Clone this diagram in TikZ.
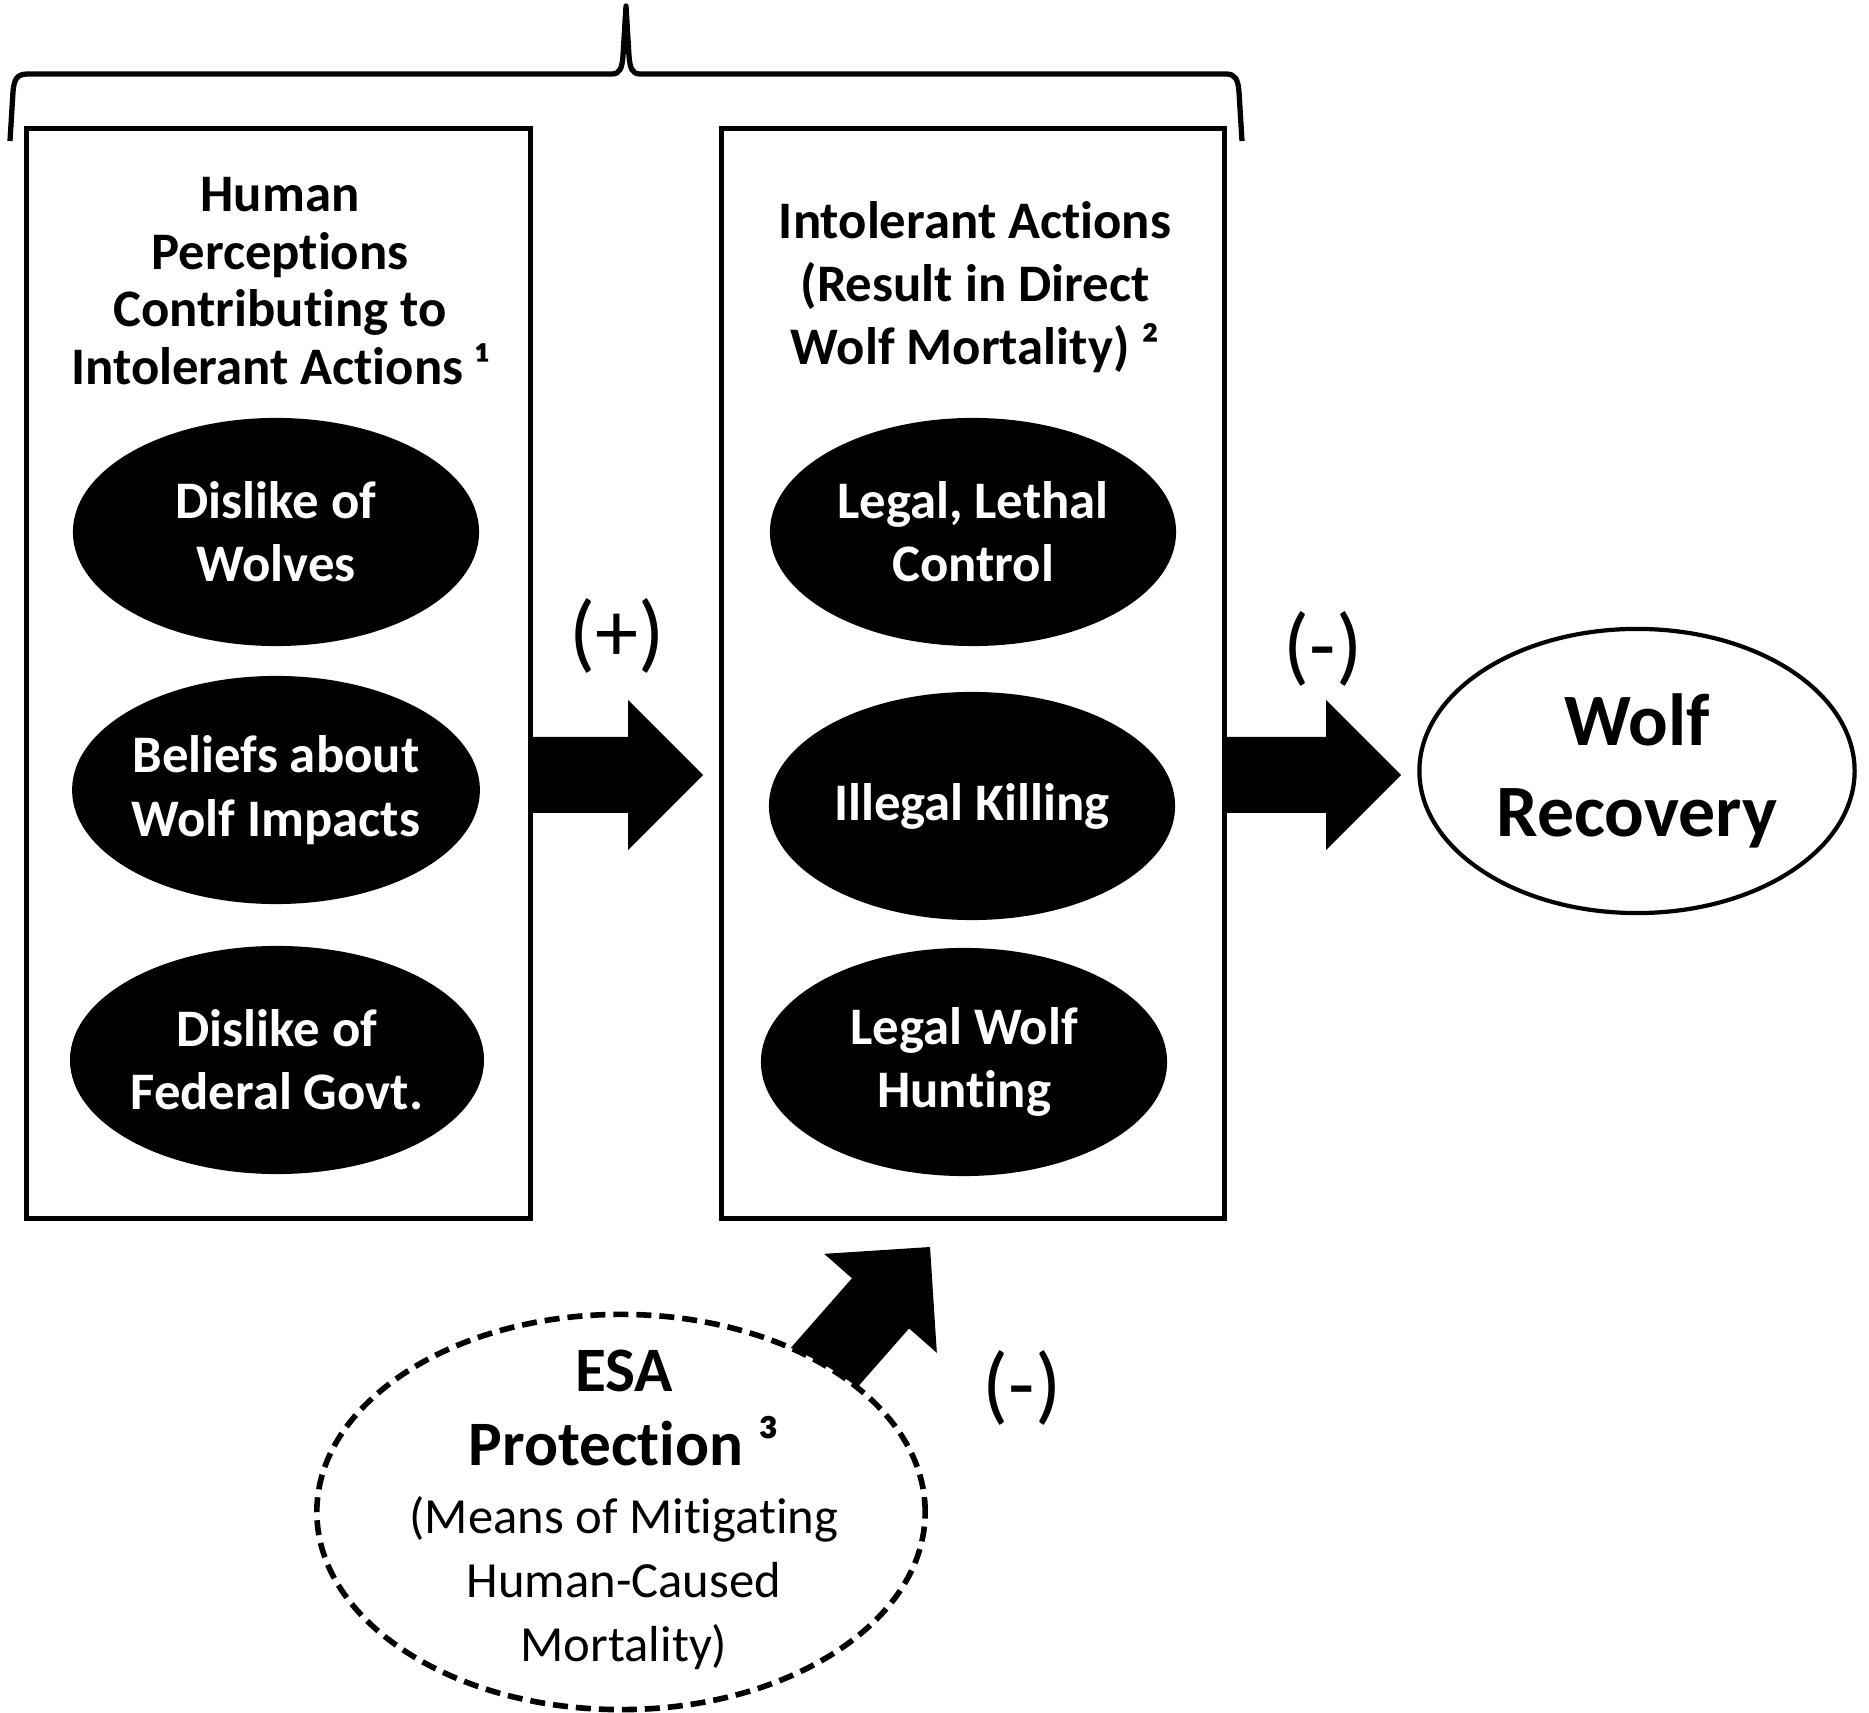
\documentclass[tikz,border=0pt]{standalone}
\usepackage{fontspec}
\setmainfont{Carlito}[Ligatures={NoCommon,NoContextual}]
\usetikzlibrary{shapes.geometric}

% filled block arrow: tail point, angle, shaft length
\newcommand{\blockarrow}[3]{%
  \fill[shift={#1}, rotate=#2] (0,-38) -- (#3,-38) -- (#3,-75) -- ++(75,75)
    -- ++(-75,75) -- (#3,38) -- (0,38) -- cycle;}

\begin{document}
\begin{tikzpicture}[x=0.01cm, y=-0.01cm,
    box/.style={rectangle, draw, line width=1.4pt,
                minimum width=5.03cm, minimum height=10.89cm},
    ttl/.style={align=center, font=\fontsize{15}{17.9}\selectfont\bfseries},
    blob/.style={ellipse, fill=black, text=white, inner sep=0pt,
                 minimum width=4.06cm, minimum height=2.28cm,
                 align=center, font=\fontsize{15}{18}\selectfont\bfseries},
    goal/.style={ellipse, draw, line width=1.2pt, fill=white,
                 minimum width=4.35cm, minimum height=2.84cm,
                 align=center, font=\fontsize{21}{26}\selectfont\bfseries},
    esa/.style={ellipse, draw, line width=1.6pt, fill=white,
                dash pattern=on 0.15cm off 0.08cm,
                minimum width=6.08cm, minimum height=3.95cm},
    sign/.style={font=\fontsize{24.5}{28}\selectfont}
]
\useasboundingbox (0,0) rectangle (1869,1713);

% Brace over both boxes
\draw[line width=1.5pt, line join=round]
  (10,141) -- (13,92) .. controls (14,79) and (17,74) .. (28,74) -- (612,74)
  .. controls (620,74) and (622,68) .. (623,56) -- (626,6)
  -- (629,56) .. controls (630,68) and (632,74) .. (640,74) -- (1226,74)
  .. controls (1235,74) and (1238,79) .. (1239,92) -- (1242,141);

% Boxes
\node[box] (percep)  at (278.5,673.5) {};
\node[box] (actions) at (973,673.5) {};

\node[ttl, font=\fontsize{15}{16.4}\selectfont\bfseries] (percepttl) at (280,281)
  {Human\\Perceptions\\Contributing to\\Intolerant Actions ¹};
\node[ttl] (actionsttl) at (975,287) {Intolerant Actions\\(Result in Direct\\Wolf Mortality) ²};

% Perceptions
\node[blob] (wolves)  at (276,532)  {Dislike of\\Wolves};
\node[blob] (beliefs) at (276,790)  {Beliefs about\\Wolf Impacts};
\node[blob] (govt)    at (277,1060) {Dislike of\\Federal Govt.};

% Actions
\node[blob] (control) at (973,532)  {Legal, Lethal\\Control};
\node[blob] (illegal) at (972,806)  {Illegal Killing};
\node[blob] (hunting) at (964,1062) {Legal Wolf\\Hunting};

% Outcome
\node[goal] (recovery) at (1637,771) {Wolf\\Recovery};

% Arrows
\blockarrow{(528,775)}{0}{100}
\blockarrow{(1224,775)}{0}{102}
\blockarrow{(800,1395)}{48.7}{122}

% ESA
\node[esa] (protect) at (621,1512) {};
\node[align=center, font=\fontsize{18}{21.3}\selectfont\bfseries] (protectttl) at (624,1408) {ESA\\Protection ³};
\node[align=center, font=\fontsize{14.4}{18.3}\selectfont] (protecttxt) at (624,1583) {(Means of Mitigating\\Human-Caused\\Mortality)};

% Signs
\node[sign] (plus)   at (617,636)  {(+)};
\node[sign] (minus)  at (1323,649) {(-)};
\node[sign] (minus2) at (1022,1388) {(-)};

\end{tikzpicture}
\end{document}
